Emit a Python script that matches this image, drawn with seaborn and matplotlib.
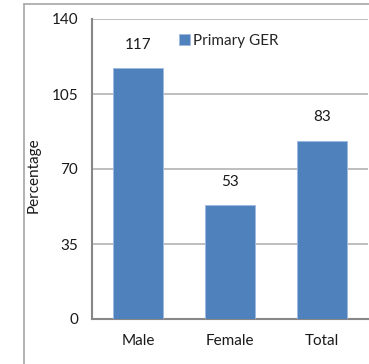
import pandas as pd
import matplotlib
matplotlib.use("Agg")
import matplotlib.pyplot as plt
from matplotlib.lines import Line2D
import seaborn as sns

# Data
categories = ["Male", "Female", "Total"]
values = [117, 53, 83]
series_name = "Primary GER"
y_ticks = [0, 35, 70, 105, 140]

df = pd.DataFrame({"group": categories, "value": values, "series": series_name})

sns.set_style("white")
plt.rcParams["font.family"] = ["Lato", "DejaVu Sans"]
FS = 11
TXT = "#1A1A1A"

fig = plt.figure(figsize=(3.69, 3.64), dpi=100)
ax = fig.add_axes([92 / 369, 45 / 364, 276 / 369, 300 / 364])

# horizontal gridlines drawn first, behind the bars
for t in y_ticks[1:]:
    ax.axhline(t, color="#BEBEBE", linewidth=1.4, zorder=1, snap=True)

sns.barplot(data=df, x="group", y="value", hue="series", palette=["#4F81BD"],
            saturation=1, width=0.55, edgecolor="#9DBBE0", linewidth=0.6,
            ax=ax, zorder=3)

# bar value labels
for cont in ax.containers:
    ax.bar_label(cont, labels=[str(v) for v in values], padding=12,
                 fontsize=FS, color=TXT)

ax.set_ylim(0, 140)
ax.set_xlim(-0.5, 2.5)
ax.set_yticks(y_ticks)
ax.set_yticklabels([str(t) for t in y_ticks], fontsize=FS, color=TXT)

# category labels centred, tick marks at boundaries
ax.set_xticks(range(len(categories)))
ax.set_xticklabels(categories, fontsize=FS, color=TXT)
ax.set_xticks([-0.5, 0.5, 1.5, 2.5], minor=True)
ax.tick_params(axis="x", which="major", length=0, pad=11)
ax.tick_params(axis="x", which="minor", length=5, width=1.3, color="#878787")
ax.tick_params(axis="y", length=5, width=1.3, color="#878787", pad=5)

ax.set_xlabel("")
ax.set_ylabel("Percentage", fontsize=FS, color=TXT)
ax.yaxis.set_label_coords(-0.185, 0.48)

for side in ["top", "right"]:
    ax.spines[side].set_visible(False)
for side in ["left", "bottom"]:
    ax.spines[side].set_color("#878787")
    ax.spines[side].set_linewidth(1.5)

sns.move_legend(ax, "center left", bbox_to_anchor=(0.315, 0.927), frameon=False,
                title=None, fontsize=FS, handlelength=0.7, handleheight=0.7,
                handletextpad=0.2, borderpad=0, borderaxespad=0)

# outer chart border (only left and top edges fall inside the image)
bx, by = 24 / 369, 1 - 4 / 364
fig.add_artist(Line2D([bx, bx], [0, by], transform=fig.transFigure,
                      color="#A6A6A6", linewidth=1.2))
fig.add_artist(Line2D([bx, 1], [by, by], transform=fig.transFigure,
                      color="#A6A6A6", linewidth=1.2))

fig.savefig("out.png", dpi=100)
